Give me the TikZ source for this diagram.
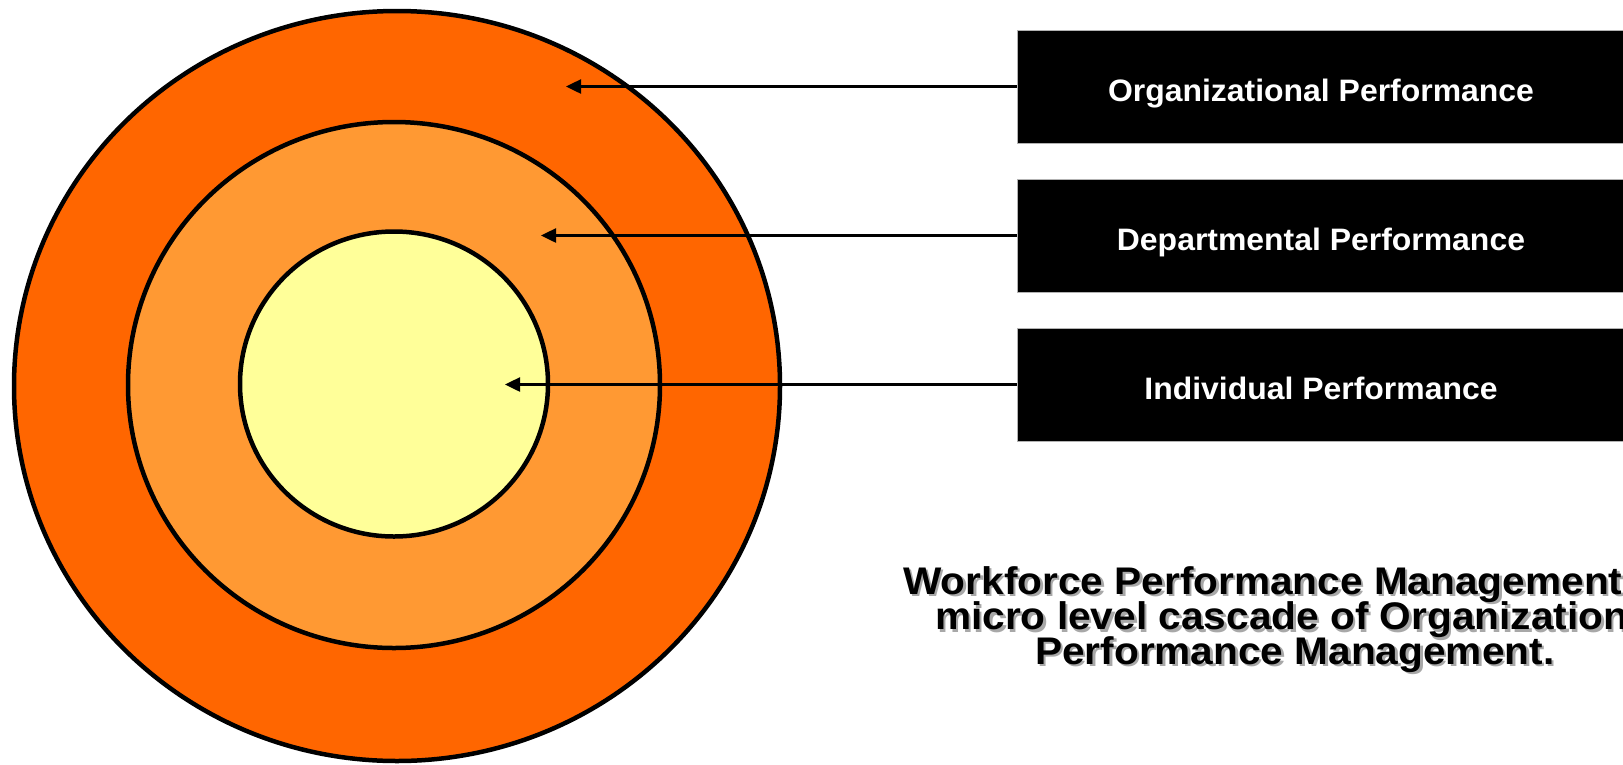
\documentclass[tikz,border=0pt]{standalone}
\usepackage{fontspec}
\setmainfont{Liberation Sans}
\newfontfamily\boxfont[FakeStretch=1.03]{Liberation Sans}
\newfontfamily\capfont[FakeStretch=1.055]{Liberation Sans}
\usetikzlibrary{arrows.meta,shapes.geometric}
\definecolor{outerorange}{HTML}{FF6600}
\definecolor{midorange}{HTML}{FF9933}
\definecolor{paleyellow}{HTML}{FFFF99}
\definecolor{shadowgray}{HTML}{A8A8A8}
\begin{document}
\begin{tikzpicture}[x=1pt,y=-1pt,
  ring/.style={ellipse, draw=black, line width=4.5pt, inner sep=0pt, outer sep=0pt},
  levelbox/.style={rectangle, fill=black, draw=gray!60, line width=1pt,
    minimum width=608pt, minimum height=113pt, inner sep=0pt, outer sep=0pt,
    text=white, font=\boxfont\bfseries\fontsize{31}{36}\selectfont,
    text height=29pt, text depth=0pt},
  pointer/.style={-{Triangle[length=15pt,width=14pt]}, line width=2.5pt},
  captionline/.style={font=\capfont\bfseries\fontsize{38.5}{36}\selectfont, inner sep=0pt, text=black},
  captionshadow/.style={captionline, text=shadowgray},
]
\clip (0,0) rectangle (1623,764);
\fill[white] (0,0) rectangle (1623,764);

% concentric rings
\node[ring, fill=outerorange, minimum width=766pt, minimum height=750pt] (outer) at (397,386) {};
\node[ring, fill=midorange, minimum width=532pt, minimum height=526pt] (middle) at (394,385) {};
\node[ring, fill=paleyellow, minimum width=308pt, minimum height=305pt] (inner) at (394,384) {};

% label boxes
\node[levelbox] (orgbox) at (1321,86.5) {Organizational Performance};
\node[levelbox] (deptbox) at (1321,235.5) {Departmental Performance};
\node[levelbox] (indbox) at (1321,384.5) {Individual Performance};

% arrow tips
\coordinate (orgtip) at (566,86.5);
\coordinate (depttip) at (541,235.5);
\coordinate (indtip) at (505,384.5);

\draw[pointer] (orgbox.west) -- (orgtip);
\draw[pointer] (deptbox.west) -- (depttip);
\draw[pointer] (indbox.west) -- (indtip);

% caption with shadow
\node[captionshadow, anchor=base west] (cap1s) at (905.5,596.5) {Workforce Performance Management};
\node[captionshadow, anchor=base west] (cap2s) at (937.5,632) {micro level cascade of Organizational};
\node[captionshadow, anchor=base west] (cap3s) at (1037.5,666.5) {Performance Management.};
\node[captionline, anchor=base west] (cap1) at (903,594) {Workforce Performance Management};
\node[captionline, anchor=base west] (cap2) at (935,629.5) {micro level cascade of Organizational};
\node[captionline, anchor=base west] (cap3) at (1035,664) {Performance Management.};
\end{tikzpicture}
\end{document}
